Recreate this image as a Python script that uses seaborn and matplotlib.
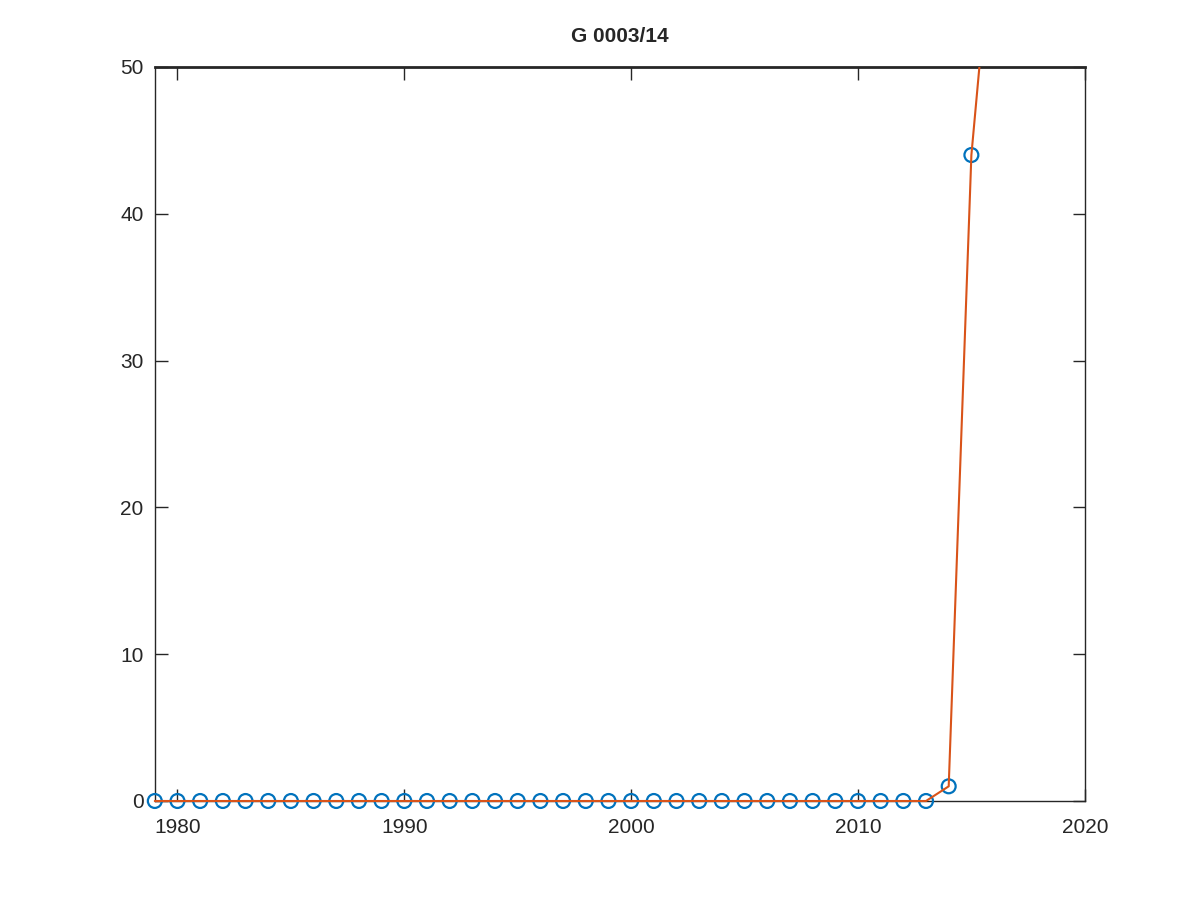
import numpy as np
import pandas as pd
import matplotlib
matplotlib.use("Agg")
import matplotlib.pyplot as plt
from matplotlib.patches import Rectangle
import seaborn as sns

years = list(range(1979, 2016))
values = [0] * 35 + [1, 44]
line_years = list(range(1979, 2017))
line_values = [0] * 35 + [1, 44, 61]

sns.set_style("white")
plt.rcParams['font.family'] = ['Liberation Sans', 'DejaVu Sans']

fig = plt.figure(figsize=(12, 9), dpi=100)
ax = fig.add_axes([0.129, 0.11, 0.775, 0.8156])

df_pts = pd.DataFrame({"year": years, "value": values})
df_line = pd.DataFrame({"year": line_years, "value": line_values})

sns.scatterplot(data=df_pts, x="year", y="value", ax=ax, marker="o", s=100,
                facecolors="none", edgecolor="#0072BD", linewidth=1.6, zorder=3,
                clip_on=False)
sns.lineplot(data=df_line, x="year", y="value", ax=ax, color="#D95319",
             linewidth=1.5, zorder=4)

clip = Rectangle((-0.05, -0.05), 1.1, 1.05, transform=ax.transAxes)
for ln in ax.lines:
    ln.set_clip_path(clip)

ax.set_xlim(1979, 2020)
ax.set_ylim(0, 50)
ax.set_xticks([1980, 1990, 2000, 2010, 2020])
ax.set_yticks([0, 10, 20, 30, 40, 50])
ax.tick_params(direction="in", length=9, width=1, top=True, right=True,
               bottom=True, left=True, labelsize=15, colors="#262626")
ax.tick_params(axis="x", pad=12)
ax.tick_params(axis="y", pad=8)
for s in ax.spines.values():
    s.set_visible(True)
    s.set_color("#262626")
    s.set_linewidth(1.0)
    s.set_zorder(2)
ax.spines['top'].set_linewidth(2.0)
ax.set_xlabel("")
ax.set_ylabel("")
ax.set_title("G 0003/14", fontsize=15, fontweight="bold", pad=18)

fig.savefig("out.png", dpi=100, facecolor="white")
